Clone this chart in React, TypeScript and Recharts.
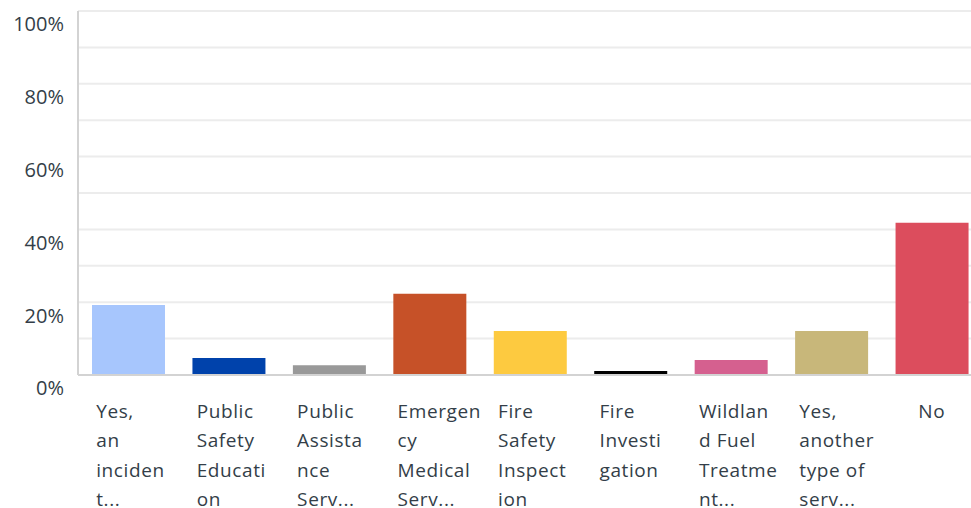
import { BarChart, Bar, Cell, XAxis, YAxis, CartesianGrid } from "recharts"

// answer choices (full names) and the wrapped lines shown under each bar
const categories = [
  "Yes, an incident",
  "Public Safety Education",
  "Public Assistance Service",
  "Emergency Medical Service",
  "Fire Safety Inspection",
  "Fire Investigation",
  "Wildland Fuel Treatment",
  "Yes, another type of service",
  "No",
]
const tickLines = [
  ["Yes,", "an", "inciden", "t..."],
  ["Public", "Safety", "Educati", "on"],
  ["Public", "Assista", "nce", "Serv..."],
  ["Emergen", "cy", "Medical", "Serv..."],
  ["Fire", "Safety", "Inspect", "ion"],
  ["Fire", "Investi", "gation"],
  ["Wildlan", "d Fuel", "Treatme", "nt..."],
  ["Yes,", "another", "type of", "serv..."],
  ["No"],
]
// percent of respondents
const percents = [19.2, 4.7, 2.7, 22.3, 12.1, 1.1, 4.1, 12.1, 41.8]
const yTicks = [0, 10, 20, 30, 40, 50, 60, 70, 80, 90, 100]

const palette = ["#a7c6fd", "#0042ab", "#999999", "#c65128", "#fdca40", "#000000", "#d5608f", "#c8b77a", "#dc4d5d"]

const data = categories.map((name, i) => ({ name, idx: i, value: percents[i] }))

const FONT = "'Open Sans', sans-serif"
const TEXT = "#333e48"

let ctx: CanvasRenderingContext2D | null = null
function measure(s: string) {
  if (!ctx) ctx = document.createElement("canvas").getContext("2d")
  if (!ctx) return s.length * 10
  ctx.font = "19px 'Open Sans'"
  return ctx.measureText(s).width + s.length * 0.6
}

function XTick(props: any) {
  const { x, y, payload } = props
  const lines = tickLines[payload.index] || []
  const w = Math.min(64, Math.max(...lines.map(measure)))
  return (
    <g>
      {lines.map((l, i) => (
        <text
          key={i}
          x={x - w / 2}
          y={y + 30 + i * 29.3}
          textAnchor="start"
          dominantBaseline="middle"
          fill={TEXT}
          fontFamily={FONT}
          fontSize={19}
          letterSpacing={0.6}
        >
          {l}
        </text>
      ))}
    </g>
  )
}

function YTick(props: any) {
  const { y, payload } = props
  if (payload.value % 20 !== 0) return <g />
  return (
    <text x={64} y={y + 15} textAnchor="end" dominantBaseline="middle" fill={TEXT} fontFamily={FONT} fontSize={20}>
      {payload.value}%
    </text>
  )
}

export default function App() {
  return (
    <div style={{ position: "fixed", left: 0, top: 0, width: 971, height: 508, overflow: "hidden", background: "#fff" }}>
      <BarChart width={985} height={508} data={data} margin={{ top: 11, right: 3, left: 0, bottom: 0 }}>
        <CartesianGrid vertical={false} stroke="#ececec" strokeWidth={2} />
        <XAxis
          dataKey="name"
          height={133}
          interval={0}
          tickLine={false}
          axisLine={{ stroke: "#d3d3d3", strokeWidth: 2 }}
          tick={<XTick />}
        />
        <YAxis
          width={78}
          domain={[0, 100]}
          ticks={yTicks}
          interval={0}
          tickLine={false}
          axisLine={{ stroke: "#d3d3d3", strokeWidth: 2 }}
          tick={<YTick />}
        />
        <Bar dataKey="value" barSize={73} isAnimationActive={false}>
          {data.map((d) => (
            <Cell key={d.name} fill={palette[d.idx]} />
          ))}
        </Bar>
      </BarChart>
    </div>
  )
}
